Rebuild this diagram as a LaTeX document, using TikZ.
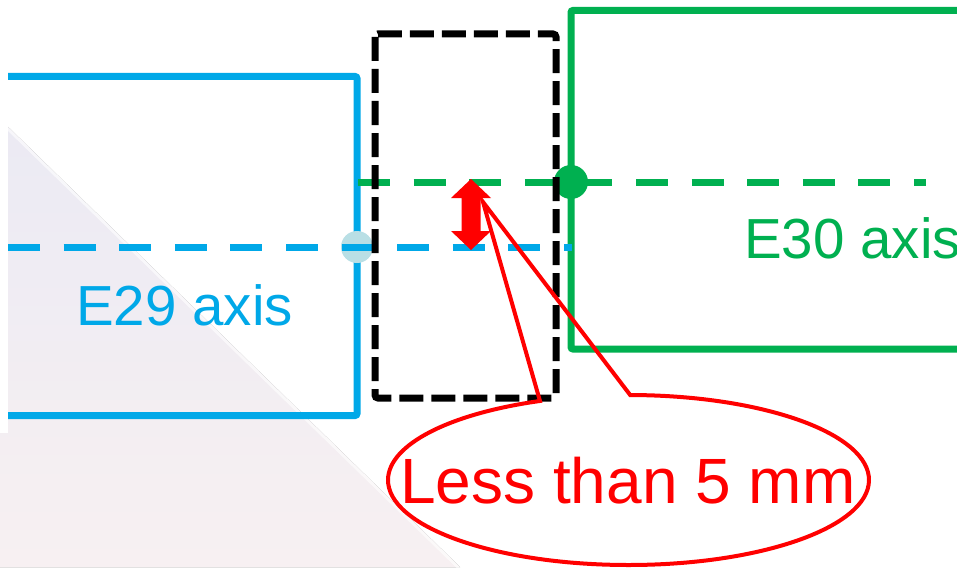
\documentclass[tikz,border=0pt]{standalone}
\usepackage{fontspec}
\setmainfont{Liberation Sans}
\usetikzlibrary{calc}
\definecolor{eblue}{HTML}{00A8E8}
\definecolor{lblue}{HTML}{B9DFE5}
\definecolor{egreen}{HTML}{00B050}
\definecolor{ered}{HTML}{FF0000}
\definecolor{bgtop}{HTML}{EBEAF3}
\definecolor{bgbot}{HTML}{F7F0F2}
\tikzset{
  boxline/.style={line width=7pt, rounded corners=2pt},
  axisline/.style={line width=7pt, dash pattern=on 32pt off 23.6pt},
  gapbox/.style={draw=black, line width=7pt, dash pattern=on 24pt off 8pt, rounded corners=3pt},
  lbl/.style={inner sep=0pt, anchor=base west},
}
\begin{document}
\begin{tikzpicture}[x=1pt,y=-1pt]
\useasboundingbox (0,0) rectangle (957,567);
% background
\fill[white] (0,0) rectangle (957,567);
\fill[top color=bgtop, bottom color=bgbot] (0,119) -- (460,567) -- (0,567) -- cycle;
\draw[white, line width=6pt, opacity=0.6] (0,119) -- (460,567);
\fill[white] (0,0) rectangle (8,433);
% coordinates
\coordinate (b1) at (8,76.5);
\coordinate (b2) at (357,76.5);
\coordinate (b3) at (357,415.5);
\coordinate (b4) at (8,415.5);
\coordinate (g1) at (970,10.5);
\coordinate (g2) at (571,10.5);
\coordinate (g3) at (571,349);
\coordinate (g4) at (970,349);
\coordinate (bdot) at (357,247);
\coordinate (gdot) at (571,182);
\coordinate (bstart) at (8,247);
\coordinate (bend) at (572,247);
\coordinate (gstart) at (358,182);
\coordinate (gend) at (926,182);
\coordinate (tip) at (483,202);
\coordinate (ec) at (628.5,480);
% E29 box
\draw[eblue, boxline] (b1) -- (b2) -- (b3) -- (b4);
% E30 box
\draw[egreen, boxline] (g1) -- (g2) -- (g3) -- (g4);
% dots
\fill[lblue] (bdot) circle[radius=16];
% axis lines
\draw[eblue, axisline] (bstart) -- (bend);
\draw[egreen, axisline] (gstart) -- (gend);
\fill[egreen] (gdot) circle[radius=17];
% gap box
\draw[gapbox] (375,34) rectangle (556,398);
% red double arrow
\fill[ered] (471,179) -- (491,198) -- (480.5,198) -- (480.5,231) -- (491,231) -- (471,250)
  -- (451,231) -- (461.5,231) -- (461.5,198) -- (451,198) -- cycle;
% callout
\draw[ered, line width=4pt, line join=miter]
  (tip) -- ([shift={(-89.6:240.5 and 85)}]ec)
  arc[start angle=-89.6, end angle=248.4, x radius=240.5, y radius=85] -- cycle;
% labels
\node[lbl, text=eblue, font=\fontsize{56.5}{60}\selectfont] (e29) at (76,325) {E29 axis};
\node[lbl, text=egreen, font=\fontsize{56.5}{60}\selectfont] (e30) at (744,258) {E30 axis};
\node[lbl, text=ered, font=\fontsize{64}{70}\selectfont] (less) at (400,503) {Less than 5 mm};
\end{tikzpicture}
\end{document}
